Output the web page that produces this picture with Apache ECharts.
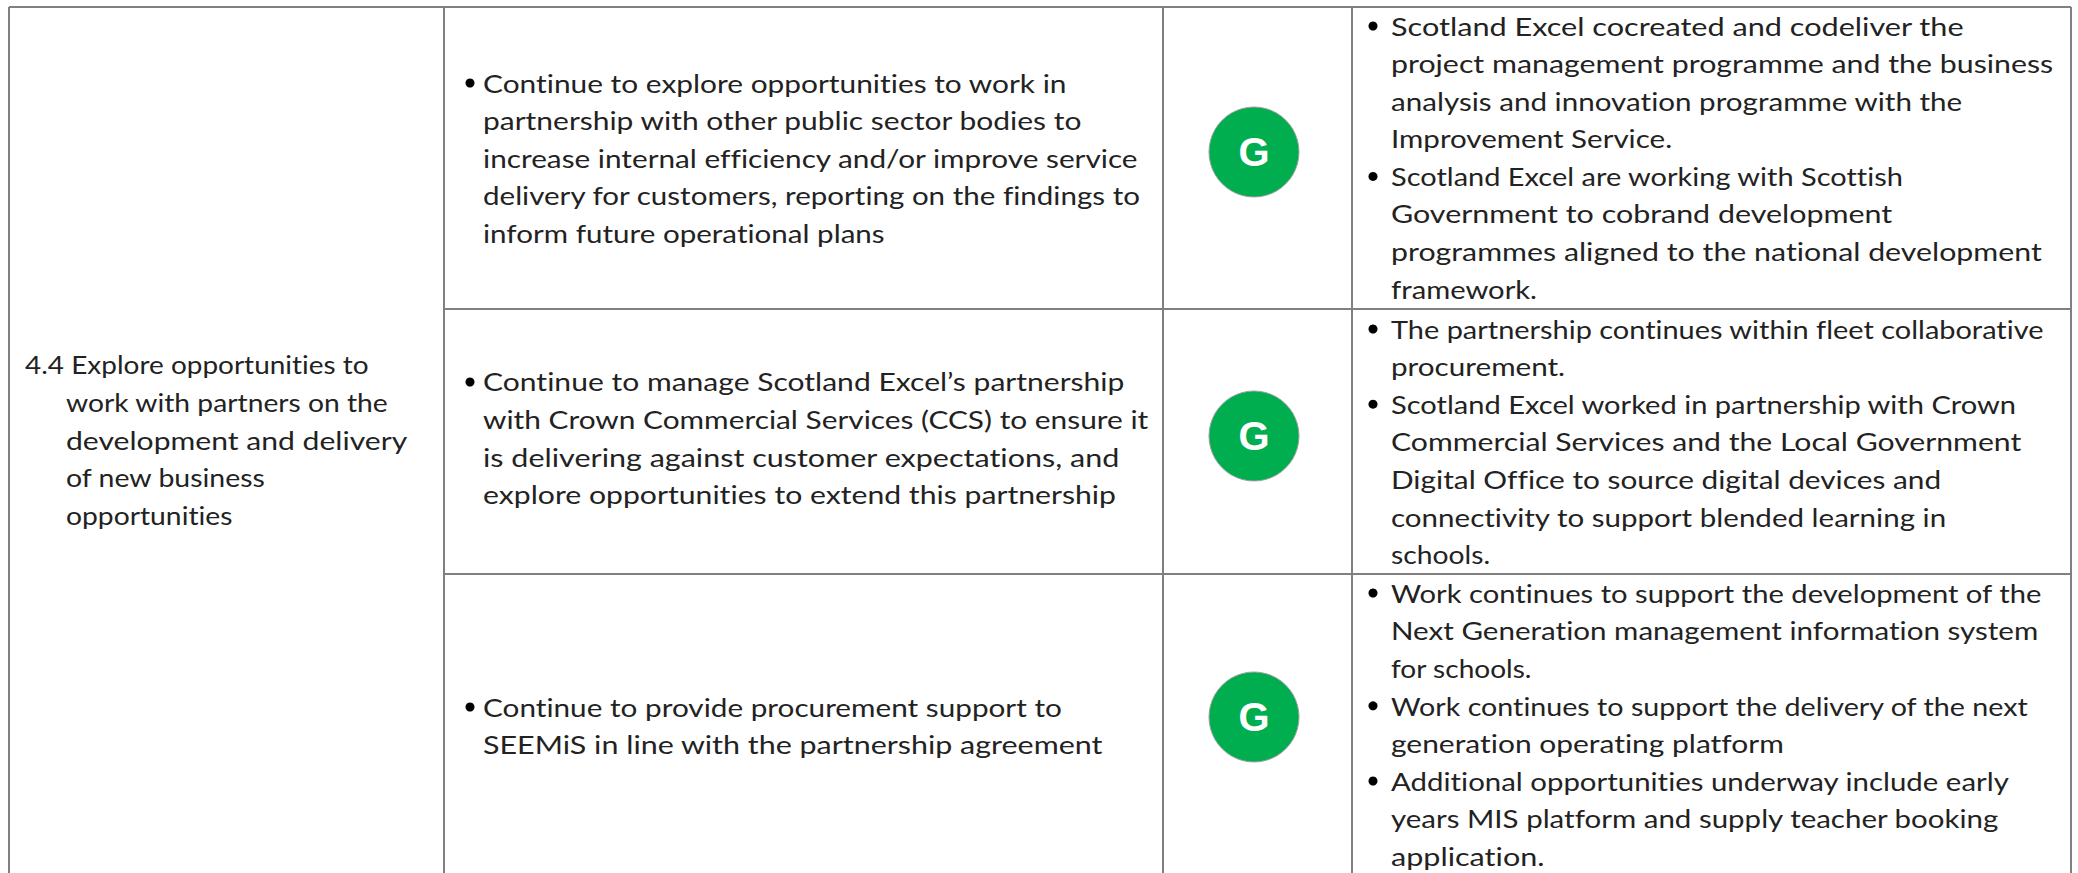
<!DOCTYPE html>
<html>
<head>
<meta charset="utf-8" />
<title>4.4 partnership actions</title>
<style>
html, body { margin: 0; padding: 0; background: #fff; }
#main { width: 2078px; height: 873px; }
/* a non zero spacing keeps Lato from joining ti and ft */
#main text { letter-spacing: 0.01px; }
</style>
<script src="https://cdn.jsdelivr.net/npm/echarts@6/dist/echarts.min.js"></script>
</head>
<body>
<div id="main"></div>
<script type="text/javascript">
// table content, "* " marks the first line of a bullet
var goalLines = [
    '4.4 Explore opportunities to',
    'work with partners on the',
    'development and delivery',
    'of new business',
    'opportunities'
];
var actionLines = [
    [
        '* Continue to explore opportunities to work in',
        'partnership with other public sector bodies to',
        'increase internal efficiency and/or improve service',
        'delivery for customers, reporting on the findings to',
        'inform future operational plans'
    ],
    [
        '* Continue to manage Scotland Excel\u2019s partnership',
        'with Crown Commercial Services (CCS) to ensure it',
        'is delivering against customer expectations, and',
        'explore opportunities to extend this partnership'
    ],
    [
        '* Continue to provide procurement support to',
        'SEEMiS in line with the partnership agreement'
    ]
];
var statusValues = ['G', 'G', 'G'];
var commentLines = [
    [
        '* Scotland Excel cocreated and codeliver the',
        'project management programme and the business',
        'analysis and innovation programme with the',
        'Improvement Service.',
        '* Scotland Excel are working with Scottish',
        'Government to cobrand development',
        'programmes aligned to the national development',
        'framework.'
    ],
    [
        '* The partnership continues within fleet collaborative',
        'procurement.',
        '* Scotland Excel worked in partnership with Crown',
        'Commercial Services and the Local Government',
        'Digital Office to source digital devices and',
        'connectivity to support blended learning in',
        'schools.'
    ],
    [
        '* Work continues to support the development of the',
        'Next Generation management information system',
        'for schools.',
        '* Work continues to support the delivery of the next',
        'generation operating platform',
        '* Additional opportunities underway include early',
        'years MIS platform and supply teacher booking',
        'application.'
    ]
];

// layout of the table
var colEdges = [9, 444, 1163, 1352, 2071];
var rowEdges = [7, 309, 574, 873];
var actionFirstY = [83, 382, 707];
var commentFirstY = [26, 329, 593];
var statusY = [152, 436, 717];
var lineHeight = 37.6;
var fontSize = 25;
var fontName = 'Lato';
var textColor = '#222222';

// where each line stops, the substitute font is narrower or wider line by line
var goalEnds = [369, 388, 407, 266, 233];
var actionEnds = [
    [1068, 1083, 1137, 1141, 885],
    [1125, 1148, 1120, 1116],
    [1062, 1103]
];
var commentEnds = [
    [1964, 2053, 1963, 1672, 1903, 1892, 2042, 1537],
    [2045, 1565, 2017, 2021, 1939, 1947, 1490],
    [2042, 2039, 1532, 2029, 1784, 2010, 1999, 1545]
];

var measure = document.createElement('canvas').getContext('2d');
measure.font = fontSize + 'px ' + fontName;

var textItems = [];
var bulletItems = [];

function addBlock(lines, ends, textX, bulletX, firstY) {
    lines.forEach(function (line, i) {
        var y = firstY + i * lineHeight;
        if (line.indexOf('* ') === 0) {
            bulletItems.push([bulletX, y]);
            line = line.substring(2);
        }
        textItems.push({
            value: [textX, y],
            text: line,
            stretch: (ends[i] - textX) / measure.measureText(line).width
        });
    });
}

addBlock(goalLines.slice(0, 1), goalEnds.slice(0, 1), 25, 0, 365);
addBlock(goalLines.slice(1), goalEnds.slice(1), 66, 0, 365 + lineHeight);
for (var r = 0; r < 3; r++) {
    addBlock(actionLines[r], actionEnds[r], 483, 470, actionFirstY[r]);
    addBlock(commentLines[r], commentEnds[r], 1391, 1373, commentFirstY[r]);
}

var rules = [];
rules.push([colEdges[0], rowEdges[0], colEdges[4], rowEdges[0]]);
rules.push([colEdges[1], rowEdges[1], colEdges[4], rowEdges[1]]);
rules.push([colEdges[1], rowEdges[2], colEdges[4], rowEdges[2]]);
colEdges.forEach(function (x) {
    rules.push([x, rowEdges[0], x, rowEdges[3]]);
});

var statusPoints = statusValues.map(function (s, i) {
    return { value: [1254, statusY[i]], label: { formatter: s } };
});

var myChart = echarts.init(document.getElementById('main'), null, { renderer: 'svg' });
var option = {
    animation: false,
    backgroundColor: '#ffffff',
    grid: { left: 0, right: 0, top: 0, bottom: 0 },
    xAxis: { type: 'value', min: 0, max: 2078, show: false },
    yAxis: { type: 'value', min: 0, max: 873, inverse: true, show: false },
    series: [
        {
            type: 'custom',
            silent: true,
            data: rules,
            encode: { x: [0, 2], y: [1, 3] },
            renderItem: function (params, api) {
                var a = api.coord([api.value(0), api.value(1)]);
                var b = api.coord([api.value(2), api.value(3)]);
                return {
                    type: 'line',
                    shape: { x1: a[0], y1: a[1], x2: b[0], y2: b[1] },
                    style: { stroke: '#808080', lineWidth: 2 }
                };
            }
        },
        {
            type: 'custom',
            silent: true,
            data: textItems,
            encode: { x: 0, y: 1 },
            renderItem: function (params, api) {
                var p = api.coord([api.value(0), api.value(1)]);
                var item = textItems[params.dataIndex];
                return {
                    type: 'text',
                    x: p[0],
                    y: p[1],
                    scaleX: item.stretch,
                    style: {
                        text: item.text,
                        x: 0,
                        y: 0,
                        fill: textColor,
                        font: fontSize + 'px ' + fontName,
                        verticalAlign: 'middle',
                        align: 'left'
                    }
                };
            }
        },
        {
            type: 'scatter',
            silent: true,
            data: bulletItems,
            symbol: 'circle',
            symbolSize: 9,
            itemStyle: { color: '#000000', opacity: 1 }
        },
        {
            type: 'scatter',
            silent: true,
            data: statusPoints,
            symbol: 'circle',
            symbolSize: 90,
            itemStyle: { color: '#00ae50', opacity: 1, borderColor: '#a0a0a0', borderWidth: 1 },
            label: {
                show: true,
                position: 'inside',
                color: '#ffffff',
                fontFamily: 'Liberation Sans',
                fontWeight: 'bold',
                fontSize: 40
            }
        }
    ]
};
myChart.setOption(option);
</script>
</body>
</html>
